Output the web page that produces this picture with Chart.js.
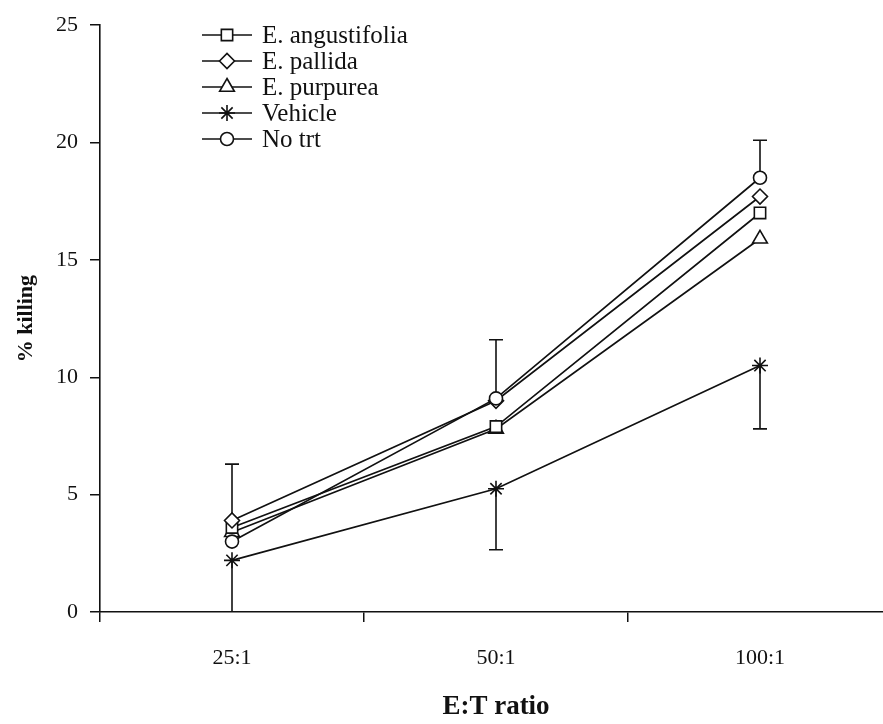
<!DOCTYPE html>
<html>
<head>
<meta charset="utf-8">
<script src="https://cdn.jsdelivr.net/npm/chart.js@4/dist/chart.umd.min.js"></script>
<style>
  html, body { margin: 0; padding: 0; background: #fff; }
  #wrap { width: 883px; height: 724px; }
</style>
</head>
<body>
<div id="wrap"><canvas id="chart"></canvas></div>
<script>
const categories = ['25:1', '50:1', '100:1'];
const seriesNames = ['E. angustifolia', 'E. pallida', 'E. purpurea', 'Vehicle', 'No trt'];
const angustifolia = [3.6, 7.9, 17.0];
const pallida = [3.9, 9.0, 17.7];
const purpurea = [3.4, 7.8, 15.9];
const vehicle = [2.2, 5.25, 10.5];
const noTrt = [3.0, 9.1, 18.5];
// error bars: upward on No trt, downward on Vehicle
const noTrtErrUp = [3.3, 2.5, 1.6];
const vehicleErrDown = [2.6, 2.6, 2.7];
const yTicks = [0, 5, 10, 15, 20, 25];

const serif = "'Liberation Serif', 'Times New Roman', serif";
const ink = '#111';

function series(label, data, style, radius, order) {
    return {
        label: label,
        data: data,
        borderColor: ink,
        borderWidth: 1.7,
        pointStyle: style,
        pointRadius: radius,
        pointHoverRadius: radius,
        pointBackgroundColor: '#fff',
        pointBorderColor: ink,
        pointBorderWidth: 1.6,
        tension: 0,
        fill: false,
        order: order
    };
}

// the x axis in the original runs a little past the right edge
const stretchX = {
    id: 'stretchX',
    afterLayout(chart) {
        const x = chart.scales.x;
        const extra = 9;
        x.right += extra;
        x.width += extra;
        chart.chartArea.right += extra;
        chart.chartArea.width += extra;
        x.configure();
    }
};

const errorBars = {
    id: 'errorBars',
    beforeDatasetsDraw(chart) {
        const ctx = chart.ctx;
        const x = chart.scales.x, y = chart.scales.y;
        const area = chart.chartArea;
        ctx.save();
        ctx.beginPath();
        ctx.rect(area.left, area.top - 2, area.right - area.left, area.bottom - area.top + 2);
        ctx.clip();
        ctx.strokeStyle = ink;
        ctx.lineWidth = 1.6;
        const cap = 7;
        function bar(i, from, to) {
            const px = x.getPixelForValue(i);
            const p1 = y.getPixelForValue(from), p2 = y.getPixelForValue(to);
            ctx.beginPath();
            ctx.moveTo(px, p1); ctx.lineTo(px, p2);
            ctx.moveTo(px - cap, p2); ctx.lineTo(px + cap, p2);
            ctx.stroke();
        }
        categories.forEach((c, i) => {
            bar(i, noTrt[i], noTrt[i] + noTrtErrUp[i]);
            bar(i, vehicle[i], vehicle[i] - vehicleErrDown[i]);
        });
        ctx.restore();
    }
};

const lineLegend = {
    id: 'lineLegend',
    afterDraw(chart) {
        const ctx = chart.ctx;
        ctx.save();
        chart.data.datasets.forEach((ds, i) => {
            const yy = 35 + i * 26;
            ctx.strokeStyle = ink;
            ctx.lineWidth = 1.7;
            ctx.beginPath();
            ctx.moveTo(202, yy); ctx.lineTo(252, yy);
            ctx.stroke();
            ctx.fillStyle = '#fff';
            ctx.strokeStyle = ink;
            ctx.lineWidth = 1.6;
            Chart.helpers.drawPoint(ctx, {
                pointStyle: ds.pointStyle, radius: ds.pointRadius, rotation: 0, borderWidth: 1.6
            }, 227, yy);
            ctx.fillStyle = ink;
            ctx.font = '25px ' + serif;
            ctx.textAlign = 'left';
            ctx.textBaseline = 'middle';
            ctx.fillText(ds.label, 262, yy + 1);
        });
        ctx.restore();
    }
};

new Chart(document.getElementById('chart'), {
    type: 'line',
    data: {
        labels: categories,
        datasets: [
            series(seriesNames[0], angustifolia, 'rect', 8, 2),
            series(seriesNames[1], pallida, 'rectRot', 7.5, 1),
            series(seriesNames[2], purpurea, 'triangle', 8.5, 3),
            series(seriesNames[3], vehicle, 'star', 8, 4),
            series(seriesNames[4], noTrt, 'circle', 6.5, 0)
        ]
    },
    options: {
        responsive: true,
        maintainAspectRatio: false,
        animation: false,
        events: [],
        layout: { autoPadding: false, padding: { top: 19, right: 0, left: 0, bottom: 0 } },
        plugins: {
            legend: { display: false },
            tooltip: { enabled: false }
        },
        scales: {
            x: {
                type: 'category',
                offset: true,
                afterFit: (s) => { s.height = 112; s.paddingRight = 0; s.paddingLeft = 0; },
                grid: {
                    display: true, offset: true, drawOnChartArea: false, drawTicks: true,
                    tickLength: 10, color: ink, lineWidth: 1.5
                },
                border: { display: true, color: ink, width: 1.6 },
                ticks: { color: ink, padding: 23, font: { family: serif, size: 22 } },
                title: {
                    display: true, text: 'E:T ratio', color: ink,
                    font: { family: serif, size: 27, weight: 'bold' },
                    padding: { top: 0, bottom: 1 }
                }
            },
            y: {
                min: 0,
                max: 25,
                afterFit: (s) => { s.width = 100; },
                afterBuildTicks: (s) => { s.ticks = yTicks.map(v => ({ value: v })); },
                grid: {
                    display: true, drawOnChartArea: false, drawTicks: true,
                    tickLength: 10, color: ink, lineWidth: 1.5
                },
                border: { display: true, color: ink, width: 1.6 },
                ticks: { color: ink, padding: 12, font: { family: serif, size: 22 } },
                title: {
                    display: true, text: '% killing', color: ink,
                    font: { family: serif, size: 22, weight: 'bold' },
                    padding: { top: 13, bottom: 0 }
                }
            }
        }
    },
    plugins: [stretchX, errorBars, lineLegend]
});
</script>
</body>
</html>
